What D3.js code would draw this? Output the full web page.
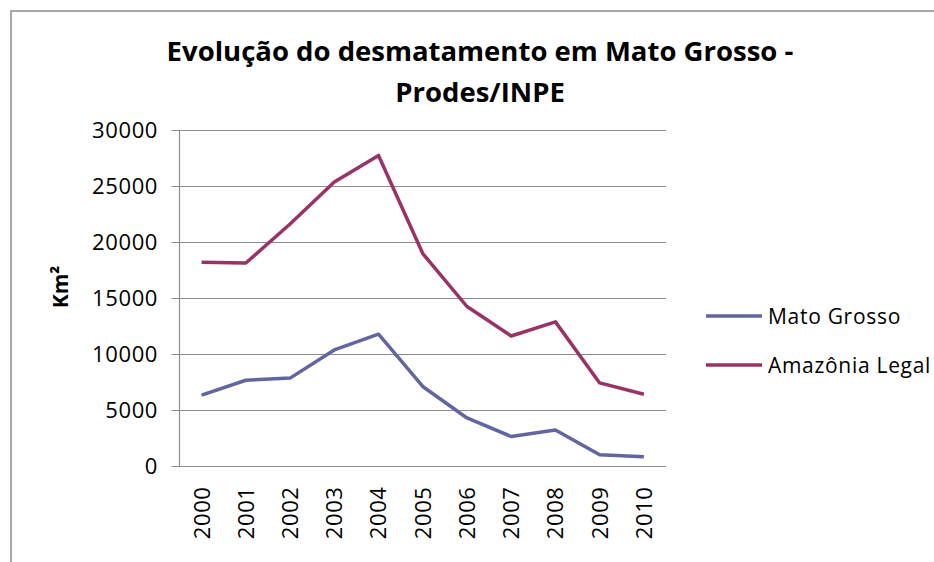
<!DOCTYPE html>
<html>
<head>
<meta charset="utf-8">
<script src="https://cdn.jsdelivr.net/npm/d3@7"></script>
<style>
  body { margin: 0; background: #fff; }
  text { font-family: "Open Sans", "Liberation Sans", sans-serif; }
</style>
</head>
<body>
<div id="chart"></div>
<script>
// data
var years = ["2000", "2001", "2002", "2003", "2004", "2005", "2006", "2007", "2008", "2009", "2010"];
var matoGrosso = [6369, 7703, 7892, 10405, 11814, 7145, 4333, 2678, 3258, 1049, 871];
var amazonia = [18226, 18165, 21651, 25396, 27772, 19014, 14286, 11651, 12911, 7464, 6451];
var yTicks = [0, 5000, 10000, 15000, 20000, 25000, 30000];
var seriesNames = ["Mato Grosso", "Amazônia Legal"];
var seriesColors = ["#6365a1", "#993366"];

var W = 934, H = 562;
var plot = {left: 179.5, top: 130.5, right: 666, bottom: 466.5};

var svg = d3.select("#chart")
  .append("svg")
    .attr("width", W)
    .attr("height", H);

// outer frame (only left and top visible)
svg.append("path")
  .attr("d", "M11," + H + "V11H" + W)
  .attr("fill", "none")
  .attr("stroke", "#8c8c8c")
  .attr("stroke-width", 1.5);

var x = d3.scaleBand()
  .domain(years)
  .range([plot.left, plot.right]);

var y = d3.scaleLinear()
  .domain([0, 30000])
  .range([plot.bottom, plot.top]);

// gridlines
svg.append("g")
  .selectAll("line")
  .data(yTicks)
  .enter()
  .append("line")
    .attr("x1", plot.left - 8)
    .attr("x2", plot.right)
    .attr("y1", function(d) { return y(d); })
    .attr("y2", function(d) { return y(d); })
    .attr("stroke", "#8c8c8c")
    .attr("stroke-width", 1.2);

// y axis line
svg.append("line")
  .attr("x1", plot.left).attr("x2", plot.left)
  .attr("y1", plot.top).attr("y2", plot.bottom)
  .attr("stroke", "#8c8c8c")
  .attr("stroke-width", 1.2);

// y tick labels
svg.append("g")
  .selectAll("text")
  .data(yTicks)
  .enter()
  .append("text")
    .attr("x", 158)
    .attr("y", function(d) { return y(d); })
    .attr("dy", "0.36em")
    .attr("text-anchor", "end")
    .style("font-size", "22px")
    .style("letter-spacing", "0.6px")
    .style("fill", "#000")
    .text(function(d) { return d; });

// x tick labels, rotated
svg.append("g")
  .selectAll("text")
  .data(years)
  .enter()
  .append("text")
    .attr("transform", function(d) {
      return "translate(" + (x(d) + x.bandwidth() / 2) + "," + (plot.bottom + 20) + ")rotate(-90)";
    })
    .attr("text-anchor", "end")
    .attr("dy", "0.36em")
    .style("font-size", "22px")
    .style("letter-spacing", "0.6px")
    .text(function(d) { return d; });

// y axis title
svg.append("text")
  .attr("transform", "translate(60,287)rotate(-90)")
  .attr("text-anchor", "middle")
  .attr("dy", "0.36em")
  .style("font-size", "21px")
  .style("font-weight", "bold")
  .text("Km²");

// chart title
svg.append("text")
  .attr("x", 480)
  .attr("y", 61)
  .attr("text-anchor", "middle")
  .style("font-size", "27.5px")
  .style("font-weight", "bold")
  .text("Evolução do desmatamento em Mato Grosso -");
svg.append("text")
  .attr("x", 480)
  .attr("y", 102)
  .attr("text-anchor", "middle")
  .style("font-size", "27.5px")
  .style("font-weight", "bold")
  .text("Prodes/INPE");

// lines
var line = d3.line()
  .x(function(d, i) { return x(years[i]) + x.bandwidth() / 2; })
  .y(function(d) { return y(d); });

[matoGrosso, amazonia].forEach(function(values, k) {
  svg.append("path")
    .datum(values)
    .attr("fill", "none")
    .attr("stroke", seriesColors[k])
    .attr("stroke-width", 3.5)
    .attr("stroke-linejoin", "round")
    .attr("d", line);
});

// legend
var legend = svg.append("g")
  .selectAll("g")
  .data(seriesNames)
  .enter()
  .append("g")
    .attr("transform", function(d, i) { return "translate(706," + (316 + i * 49) + ")"; });

legend.append("line")
  .attr("x1", 0).attr("x2", 56)
  .attr("stroke", function(d, i) { return seriesColors[i]; })
  .attr("stroke-width", 3.5);

legend.append("text")
  .attr("x", 62)
  .attr("dy", "0.36em")
  .style("font-size", "21px")
  .style("letter-spacing", "0.7px")
  .text(function(d) { return d; });
</script>
</body>
</html>
